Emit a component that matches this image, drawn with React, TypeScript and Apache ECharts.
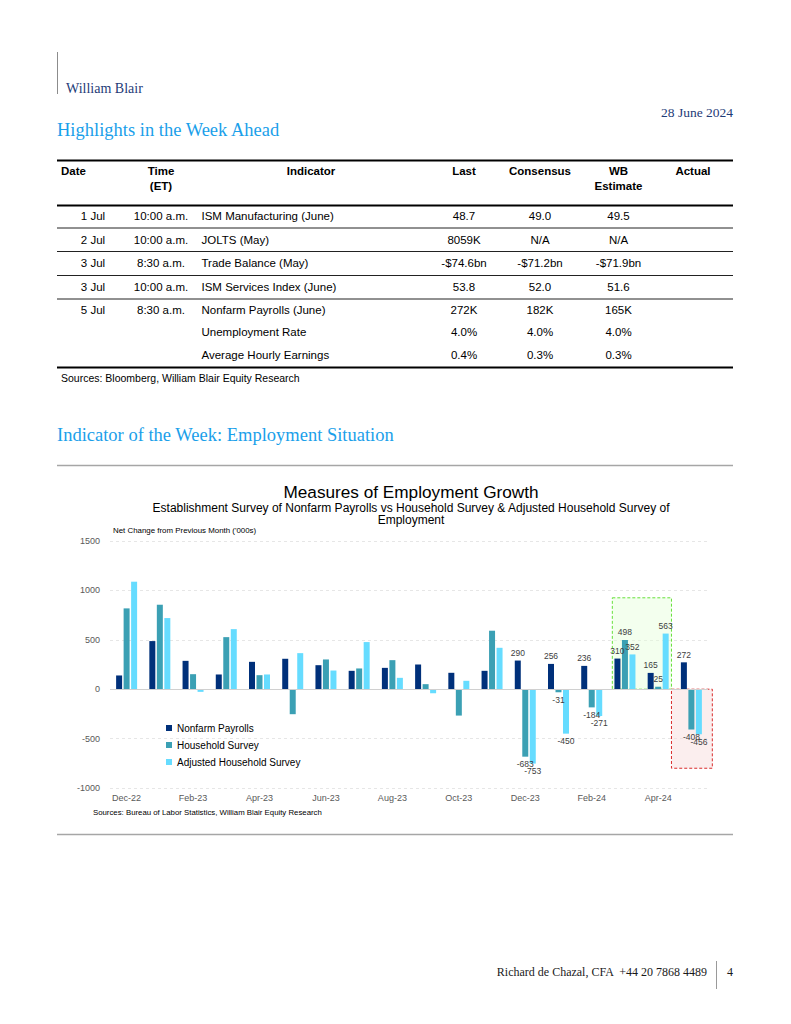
import React, { useEffect, useRef } from "react";
import * as echarts from "echarts";

// ---------- chart data ----------
const months = [
  "Dec-22", "Jan-23", "Feb-23", "Mar-23", "Apr-23", "May-23", "Jun-23", "Jul-23", "Aug-23",
  "Sep-23", "Oct-23", "Nov-23", "Dec-23", "Jan-24", "Feb-24", "Mar-24", "Apr-24", "May-24",
];
const nonfarmPayrolls = [139, 487, 287, 149, 277, 308, 243, 186, 216, 250, 166, 186, 290, 256, 236, 310, 165, 272];
const householdSurvey = [818, 855, 152, 527, 142, -253, 301, 210, 294, 51, -267, 592, -683, -31, -184, 498, 25, -408];
const adjustedHousehold = [1088, 720, -27, 608, 149, 365, 189, 477, 115, -41, 85, 419, -753, -450, -271, 352, 563, -456];
const labelFromIndex = 12;
const yTicks = { min: -1000, max: 1500, interval: 500 };

// highlight boxes: [from (band units), to (band units), top value, bottom value]
const greenBox = [15.12, 16.9, 925, 0];
const redBox = [16.9, 18.13, 0, -800];

// ---------- table data ----------
const tableDates = ["1 Jul", "2 Jul", "3 Jul", "3 Jul", "5 Jul", "", ""];
const tableTimes = ["10:00 a.m.", "10:00 a.m.", "8:30 a.m.", "10:00 a.m.", "8:30 a.m.", "", ""];
const tableIndicators = [
  "ISM Manufacturing (June)", "JOLTS (May)", "Trade Balance (May)", "ISM Services Index (June)",
  "Nonfarm Payrolls (June)", "Unemployment Rate", "Average Hourly Earnings",
];
const tableLast = ["48.7", "8059K", "-$74.6bn", "53.8", "272K", "4.0%", "0.4%"];
const tableConsensus = ["49.0", "N/A", "-$71.2bn", "52.0", "182K", "4.0%", "0.3%"];
const tableWB = ["49.5", "N/A", "-$71.9bn", "51.6", "165K", "4.0%", "0.3%"];

const SANS = "Liberation Sans, Arial, sans-serif";
const SERIF = "Liberation Serif, Times New Roman, serif";
const NAVY = "#1f3c78";
const HEAD_BLUE = "#1aa0ea";

function txt(x: number, y: number, text: string, o: any = {}) {
  return {
    type: "text",
    x,
    y,
    silent: true,
    style: {
      text,
      fill: o.fill || "#000",
      font: `${o.bold ? "bold " : ""}${o.size || 11.5}px ${o.family || SANS}`,
      textAlign: o.align || "left",
      textVerticalAlign: "middle",
    },
  };
}
function hl(x1: number, x2: number, y: number, color: string, w: number) {
  return { type: "line", silent: true, shape: { x1, y1: y, x2, y2: y }, style: { stroke: color, lineWidth: w } };
}
function vl(x: number, y1: number, y2: number, color: string, w: number) {
  return { type: "line", silent: true, shape: { x1: x, y1, x2: x, y2 }, style: { stroke: color, lineWidth: w } };
}

function buildGraphics() {
  const g: any[] = [];
  // page header
  g.push(vl(57.5, 52, 94, "#8c8c8c", 1));
  g.push(txt(66, 88, "William Blair", { family: SERIF, size: 14, fill: NAVY }));
  g.push(txt(733, 112, "28 June 2024", { family: SERIF, size: 13.5, fill: NAVY, align: "right" }));
  g.push(txt(57, 130, "Highlights in the Week Ahead", { family: SERIF, size: 18.5, fill: HEAD_BLUE }));

  // table
  g.push(hl(57, 733, 160.5, "#000", 2));
  g.push(hl(57, 733, 205.5, "#000", 2));
  g.push(hl(57, 733, 367.5, "#000", 2));
  [228, 251.5, 275.5, 299].forEach((y) => g.push(hl(57, 733, y, "#222", 1)));
  const hb = { bold: true, size: 11.5 };
  g.push(txt(61, 170.5, "Date", hb));
  g.push(txt(161, 170.5, "Time", { ...hb, align: "center" }));
  g.push(txt(161, 185.5, "(ET)", { ...hb, align: "center" }));
  g.push(txt(311, 170.5, "Indicator", { ...hb, align: "center" }));
  g.push(txt(464, 170.5, "Last", { ...hb, align: "center" }));
  g.push(txt(540, 170.5, "Consensus", { ...hb, align: "center" }));
  g.push(txt(618.5, 170.5, "WB", { ...hb, align: "center" }));
  g.push(txt(618.5, 185.5, "Estimate", { ...hb, align: "center" }));
  g.push(txt(693, 170.5, "Actual", { ...hb, align: "center" }));
  const rowY = [216, 239.5, 263, 286.5, 310, 331.5, 355];
  rowY.forEach((y, i) => {
    if (tableDates[i]) g.push(txt(93, y, tableDates[i], { align: "center" }));
    if (tableTimes[i]) g.push(txt(161, y, tableTimes[i], { align: "center" }));
    g.push(txt(201.5, y, tableIndicators[i]));
    g.push(txt(464, y, tableLast[i], { align: "center" }));
    g.push(txt(540, y, tableConsensus[i], { align: "center" }));
    g.push(txt(618.5, y, tableWB[i], { align: "center" }));
  });
  g.push(txt(61, 378, "Sources: Bloomberg, William Blair Equity Research", { size: 10.5 }));

  // chart section
  g.push(txt(57, 435, "Indicator of the Week: Employment Situation", { family: SERIF, size: 18.5, fill: HEAD_BLUE }));
  g.push(hl(57, 733, 465.5, "#a6a6a6", 1.5));
  g.push(hl(57, 733, 834.5, "#a6a6a6", 1.5));
  g.push(txt(411, 492, "Measures of Employment Growth", { size: 17.2, align: "center" }));
  g.push(txt(411, 508, "Establishment Survey of Nonfarm Payrolls vs Household Survey & Adjusted Household Survey of", { size: 12, align: "center" }));
  g.push(txt(411, 520, "Employment", { size: 12, align: "center" }));
  g.push(txt(113, 530.5, "Net Change from Previous Month ('000s)", { size: 7.9 }));
  g.push(txt(93, 812, "Sources: Bureau of Labor Statistics, William Blair Equity Research", { size: 7.8 }));

  // footer
  g.push(txt(707, 972, "Richard de Chazal, CFA  +44 20 7868 4489", { family: SERIF, size: 12, align: "right", fill: "#1a1a1a" }));
  g.push(vl(716.5, 961, 989, "#9a9a9a", 1));
  g.push(txt(730, 972, "4", { family: SERIF, size: 12, align: "center", fill: "#1a1a1a" }));
  return g;
}

function barSeries(name: string, values: number[], color: string) {
  return {
    name,
    type: "bar",
    barWidth: 6,
    barGap: "25%",
    z: 3,
    itemStyle: { color },
    data: values.map((v, i) => ({
      value: v,
      label: {
        show: i >= labelFromIndex,
        position: v >= 0 ? "top" : "bottom",
        distance: 3,
        fontSize: 8.5,
        fontFamily: SANS,
        color: "#404040",
      },
    })),
  };
}

function boxSeries(box: number[], fill: string, stroke: string) {
  return {
    type: "custom",
    z: 1,
    silent: true,
    clip: false,
    data: [[0, box[2], box[0], box[1], box[3]]],
    renderItem: (params: any, api: any) => {
      const top = api.coord([0, api.value(1)]);
      const bottom = api.coord([0, api.value(4)]);
      const bw = api.size([1, 0])[0];
      const start = top[0] - bw / 2;
      const x0 = start + api.value(2) * bw;
      const x1 = start + api.value(3) * bw;
      return {
        type: "rect",
        shape: { x: x0, y: top[1], width: x1 - x0, height: bottom[1] - top[1] },
        style: { fill, stroke, lineWidth: 1, lineDash: [3, 2] },
      };
    },
  };
}

export default function App() {
  const ref = useRef<HTMLDivElement>(null);
  useEffect(() => {
    if (!ref.current) return;
    const chart = echarts.init(ref.current, undefined, { renderer: "svg" });
    const nfp = barSeries("Nonfarm Payrolls", nonfarmPayrolls, "#00307a");
    (nfp as any).markLine = {
      silent: true,
      symbol: "none",
      label: { show: false },
      lineStyle: { color: "#d0d0d0", type: "solid", width: 1 },
      data: [{ yAxis: 0 }],
    };
    chart.setOption({
      animation: false,
      backgroundColor: "#fff",
      textStyle: { fontFamily: SANS },
      grid: { left: 110, right: 83, top: 541, bottom: 236, containLabel: false },
      legend: {
        orient: "vertical",
        left: 161,
        top: 718,
        itemWidth: 6,
        itemHeight: 6,
        itemGap: 7,
        icon: "rect",
        textStyle: { fontSize: 10, color: "#000", fontFamily: SANS },
        data: ["Nonfarm Payrolls", "Household Survey", "Adjusted Household Survey"],
      },
      xAxis: {
        type: "category",
        data: months,
        axisLine: { show: false, onZero: false },
        axisTick: { show: false },
        axisLabel: { interval: 1, fontSize: 9, color: "#595959", margin: 5, fontFamily: SANS },
      },
      yAxis: {
        type: "value",
        min: yTicks.min,
        max: yTicks.max,
        interval: yTicks.interval,
        axisLine: { show: false },
        axisTick: { show: false },
        axisLabel: {
          fontSize: 9,
          color: "#595959",
          margin: 10,
          fontFamily: SANS,
          formatter: (v: number) => String(v),
        },
        splitLine: { lineStyle: { color: "#e6e6e6", type: [3, 3] } },
      },
      graphic: buildGraphics(),
      series: [
        boxSeries(greenBox, "rgba(228,255,218,0.45)", "#66e03a"),
        boxSeries(redBox, "rgba(248,222,222,0.5)", "#d92b2b"),
        nfp,
        barSeries("Household Survey", householdSurvey, "#3ba0b4"),
        barSeries("Adjusted Household Survey", adjustedHousehold, "#66dcff"),
      ],
    });
    return () => chart.dispose();
  }, []);
  return (
    <div
      ref={ref}
      style={{ position: "absolute", left: 0, top: 0, width: 791, height: 1024, background: "#fff" }}
    />
  );
}
